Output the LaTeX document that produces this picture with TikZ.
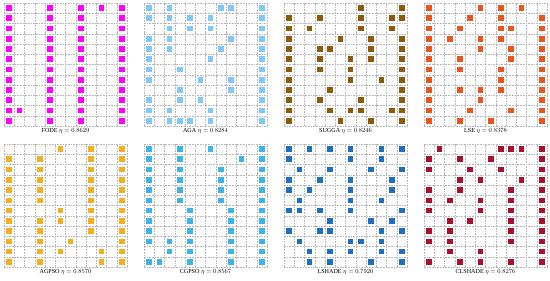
\documentclass[tikz,border=0pt]{standalone}
\usepackage{fontspec}
\setmainfont{Liberation Serif}
\definecolor{FodeMagenta}{HTML}{FF00FF}
\definecolor{AgaBlue}{HTML}{7FC8F8}
\definecolor{SuggaBrown}{HTML}{8C5A0A}
\definecolor{LseOrange}{HTML}{E8561E}
\definecolor{AgpsoGold}{HTML}{F2B01E}
\definecolor{CgpsoBlue}{HTML}{3CB4E8}
\definecolor{LshadeBlue}{HTML}{1F6FBF}
\definecolor{ClshadeRed}{HTML}{A8102E}
\usetikzlibrary{positioning}

\begin{document}
\begin{tikzpicture}[
  x=0.5mm, y=0.5mm,
  gridline/.style={draw=black!28, line width=0.5pt, dash pattern=on 2.4pt off 1.4pt},
  cell/.style={fill=#1, draw=none},
  lbl/.style={font=\fontsize{8.7}{10}\selectfont, inner sep=0pt}
]
\useasboundingbox (0,0) rectangle (550,281);

% FODE
\begin{scope}[shift={(4,155)}, x=5.125mm, y=5.125mm]
  \foreach \i in {0,...,12} {
    \draw[gridline] (\i,0) -- (\i,12);
    \draw[gridline] (0,\i) -- (12,\i);
  }
  \foreach \r/\cl in {0/{0,4,7,9,11}, 1/{0,4,7,11}, 2/{0,4,7,11}, 3/{0,4,7,11},
      4/{0,4,7,11}, 5/{0,4,7,11}, 6/{0,4,7,11}, 7/{0,4,7,11}, 8/{0,4,7,11},
      9/{0,4,7,11}, 10/{0,1,4,7,11}, 11/{0,4,7,11}}
    \foreach \c in \cl
      \fill[cell=FodeMagenta] (\c+0.22, 11.22-\r) rectangle +(0.56,0.56);
  \node[lbl] (fode_lbl) at (6,-0.5) {FODE $\eta = 0.8629$};
\end{scope}

% AGA
\begin{scope}[shift={(144,155)}, x=5.125mm, y=5.125mm]
  \foreach \i in {0,...,12} {
    \draw[gridline] (\i,0) -- (\i,12);
    \draw[gridline] (0,\i) -- (12,\i);
  }
  \foreach \r/\cl in {0/{0,2,7,8,11}, 1/{0,2,4,6,11}, 2/{2,4,6,11}, 3/{0,2,8,11},
      4/{0,2,7,11}, 5/{0,6,11}, 6/{0,3,11}, 7/{0,5,8,11}, 8/{3,8,11},
      9/{0,3,5,11}, 10/{0,2,6,11}, 11/{0,2,3,4,6,11}}
    \foreach \c in \cl
      \fill[cell=AgaBlue] (\c+0.22, 11.22-\r) rectangle +(0.56,0.56);
  \node[lbl] (aga_lbl) at (6,-0.5) {AGA $\eta = 0.8284$};
\end{scope}

% SUGGA
\begin{scope}[shift={(284,155)}, x=5.125mm, y=5.125mm]
  \foreach \i in {0,...,12} {
    \draw[gridline] (\i,0) -- (\i,12);
    \draw[gridline] (0,\i) -- (12,\i);
  }
  \foreach \r/\cl in {0/{7,11}, 1/{0,3,7,10,11}, 2/{0,2,7,10}, 3/{0,5,8,11},
      4/{0,3,4,8,11}, 5/{0,3,6,8,11}, 6/{0,3,6,11}, 7/{0,6,9,11}, 8/{0,4,11},
      9/{0,3,7,11}, 10/{0,4,6,7,10,11}, 11/{0,5,8,11}}
    \foreach \c in \cl
      \fill[cell=SuggaBrown] (\c+0.22, 11.22-\r) rectangle +(0.56,0.56);
  \node[lbl] (sugga_lbl) at (6,-0.5) {SUGGA $\eta = 0.8246$};
\end{scope}

% LSE
\begin{scope}[shift={(424,155)}, x=5.125mm, y=5.125mm]
  \foreach \i in {0,...,12} {
    \draw[gridline] (\i,0) -- (\i,12);
    \draw[gridline] (0,\i) -- (12,\i);
  }
  \foreach \r/\cl in {0/{0,5,7,9}, 1/{0,4,7,11}, 2/{0,3,7,8,11}, 3/{0,2,5,7,11},
      4/{0,5,8,11}, 5/{0,3,8,11}, 6/{0,3,7,11}, 7/{0,7,11}, 8/{0,3,5,7,11},
      9/{0,5,11}, 10/{0,4,8,11}, 11/{0,3,6,11}}
    \foreach \c in \cl
      \fill[cell=LseOrange] (\c+0.22, 11.22-\r) rectangle +(0.56,0.56);
  \node[lbl] (lse_lbl) at (6,-0.5) {LSE $\eta = 0.8378$};
\end{scope}

% AGPSO
\begin{scope}[shift={(4,14)}, x=5.125mm, y=5.125mm]
  \foreach \i in {0,...,12} {
    \draw[gridline] (\i,0) -- (\i,12);
    \draw[gridline] (0,\i) -- (12,\i);
  }
  \foreach \r/\cl in {0/{5,8,11}, 1/{0,3,8,11}, 2/{0,3,8,11}, 3/{0,3,8,11},
      4/{0,3,8,11}, 5/{0,3,8,11}, 6/{0,5,8,11}, 7/{0,3,5,8,11}, 8/{0,3,8,11},
      9/{0,3,6,11}, 10/{0,3,5,9,11}, 11/{0,3,9,11}}
    \foreach \c in \cl
      \fill[cell=AgpsoGold] (\c+0.22, 11.22-\r) rectangle +(0.56,0.56);
  \node[lbl] (agpso_lbl) at (6,-0.5) {AGPSO $\eta = 0.8570$};
\end{scope}

% CGPSO
\begin{scope}[shift={(144,14)}, x=5.125mm, y=5.125mm]
  \foreach \i in {0,...,12} {
    \draw[gridline] (\i,0) -- (\i,12);
    \draw[gridline] (0,\i) -- (12,\i);
  }
  \foreach \r/\cl in {0/{0,3,6,11}, 1/{0,3,9,11}, 2/{0,3,7,11}, 3/{0,3,7,11},
      4/{0,3,7,11}, 5/{0,3,7,11}, 6/{0,4,8,11}, 7/{0,4,8,11}, 8/{0,4,8,11},
      9/{0,2,4,8,11}, 10/{2,4,8,11}, 11/{0,1,4,8,11}}
    \foreach \c in \cl
      \fill[cell=CgpsoBlue] (\c+0.22, 11.22-\r) rectangle +(0.56,0.56);
  \node[lbl] (cgpso_lbl) at (6,-0.5) {CGPSO $\eta = 0.8567$};
\end{scope}

% LSHADE
\begin{scope}[shift={(284,14)}, x=5.125mm, y=5.125mm]
  \foreach \i in {0,...,12} {
    \draw[gridline] (\i,0) -- (\i,12);
    \draw[gridline] (0,\i) -- (12,\i);
  }
  \foreach \r/\cl in {0/{0,2,4,6,9,11}, 1/{0,6,9}, 2/{1,4,8,11}, 3/{0,3,6,10},
      4/{0,2,6,10}, 5/{1,6,9}, 6/{0,1,3,6,11}, 7/{4,8,10}, 8/{0,3,4,9,11},
      9/{1,6,7,9}, 10/{2,4,6,9,11}, 11/{2,4,8,11}}
    \foreach \c in \cl
      \fill[cell=LshadeBlue] (\c+0.22, 11.22-\r) rectangle +(0.56,0.56);
  \node[lbl] (lshade_lbl) at (6,-0.5) {LSHADE $\eta = 0.7920$};
\end{scope}

% CLSHADE
\begin{scope}[shift={(424,14)}, x=5.125mm, y=5.125mm]
  \foreach \i in {0,...,12} {
    \draw[gridline] (\i,0) -- (\i,12);
    \draw[gridline] (0,\i) -- (12,\i);
  }
  \foreach \r/\cl in {0/{1,7,8,9,11}, 1/{0,3,6,11}, 2/{0,4,7,11}, 3/{3,5,9,11},
      4/{0,3,8,11}, 5/{0,2,5,8,11}, 6/{0,5,8,11}, 7/{2,4,8,11}, 8/{0,2,8,11},
      9/{0,2,8,11}, 10/{2,5,11}, 11/{0,3,5,8,11}}
    \foreach \c in \cl
      \fill[cell=ClshadeRed] (\c+0.22, 11.22-\r) rectangle +(0.56,0.56);
  \node[lbl] (clshade_lbl) at (6,-0.5) {CLSHADE $\eta = 0.8276$};
\end{scope}

\end{tikzpicture}
\end{document}
